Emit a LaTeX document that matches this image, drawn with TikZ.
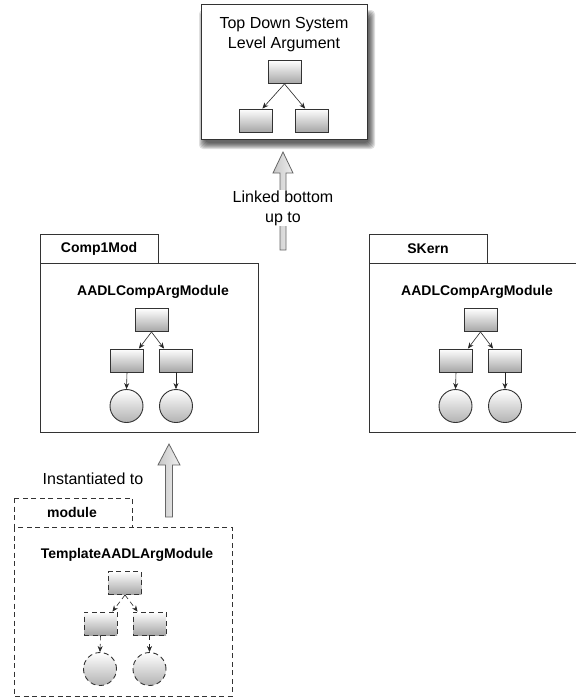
\documentclass[tikz,border=0pt]{standalone}
\usepackage{fontspec}
\setmainfont{Liberation Sans}
\usetikzlibrary{arrows.meta}

\begin{document}
\begin{tikzpicture}[x=1pt, y=-1pt, line width=0.9pt,
    goal/.style={rectangle, draw=black!80, minimum width=33pt, minimum height=23pt, inner sep=0pt,
                 top color=white, bottom color=black!35},
    sol/.style={circle, draw=black!80, minimum size=33pt, inner sep=0pt,
                top color=white, bottom color=black!30},
    link/.style={-{Stealth[length=6pt, width=5pt]}, line width=0.6pt, draw=black!85},
    tmpl/.style={dash pattern=on 5pt off 3.5pt},
    pkg/.style={draw=black!80, fill=white},
    bigarrow/.style={draw=black!60, line width=0.8pt, left color=black!22, right color=black!6},
    msgtext/.style={font=\fontsize{16}{20}\selectfont, align=center},
    pkgtitle/.style={font=\bfseries\fontsize{14}{17}\selectfont}]
    \useasboundingbox (0, 0) rectangle (576, 697);
    \clip (0, 0) rectangle (576, 697);
    % system level argument
    \foreach \r in {0, 1, ..., 6}
      \fill[black, opacity=0.12, rounded corners=4pt] (205-\r, 16-\r) rectangle (369+\r, 143+\r);
    \draw[pkg] (201, 4) rectangle (367, 139);
    \node[msgtext] (sysname) at (284, 35) {Top Down System\\Level Argument};
    \node[goal] (sys-top) at (284.5, 72) {};
    \node[goal] (sys-l) at (255.5, 120.5) {};
    \node[goal] (sys-r) at (312, 120.5) {};
    \draw[link] (sys-top.south) -- (sys-l.60);
    \draw[link] (sys-top.south) -- (sys-r.120);
    % packages
    \draw[pkg] (40, 234) rectangle (158, 263);
    \draw[pkg] (40, 263) rectangle (258, 432);
    \node[pkgtitle] (comp-tab) at (99, 249) {Comp1Mod};
    \node[pkgtitle] (comp-name) at (153, 292) {AADLCompArgModule};
    \draw[pkg] (369, 234) rectangle (487, 263);
    \draw[pkg] (369, 263) rectangle (587, 432);
    \node[pkgtitle] (skern-tab) at (428, 249) {SKern};
    \node[pkgtitle] (skern-name) at (477, 292) {AADLCompArgModule};
    \draw[pkg, tmpl] (14, 498) rectangle (132, 527);
    \draw[pkg, tmpl] (14, 527) rectangle (232, 696);
    \node[pkgtitle] (tmpl-tab) at (72, 512) {module};
    \node[pkgtitle] (tmpl-name) at (127, 555) {TemplateAADLArgModule};
    % argument trees
    \foreach \name/\cx/\cy/\sty in {comp/151.5/320/solid, skern/480.5/320/solid, tmpl/125/583/tmpl} {
      \node[goal, \sty] (\name-top) at (\cx, \cy) {};
      \node[goal, \sty] (\name-l) at (\cx-24.5, \cy+40.5) {};
      \node[goal, \sty] (\name-r) at (\cx+24.5, \cy+40.5) {};
      \node[sol, \sty] (\name-lc) at (\cx-25, \cy+86) {};
      \node[sol, \sty] (\name-rc) at (\cx+24.5, \cy+86) {};
      \draw[link, \sty] (\name-top.south) -- (\name-l.45);
      \draw[link, \sty] (\name-top.south) -- (\name-r.135);
      \draw[link, \sty] (\name-l.south) -- (\name-lc.north);
      \draw[link, \sty] (\name-r.south) -- (\name-rc.north);
    }
    % hollow arrows
    \coordinate (linktip) at (283, 152);
    \draw[bigarrow] (linktip) -- ++(10, 21) -- ++(-7, 0) -- ++(0, 77) -- ++(-6, 0) -- ++(0, -77)
                    -- ++(-7, 0) -- cycle;
    \node[msgtext, fill=white, inner sep=1pt] (linktext) at (283, 208) {Linked bottom\\up to};
    \coordinate (insttip) at (169, 444);
    \draw[bigarrow] (insttip) -- ++(11, 21) -- ++(-7.5, 0) -- ++(0, 52) -- ++(-7, 0) -- ++(0, -52)
                    -- ++(-7.5, 0) -- cycle;
    \node[msgtext] (insttext) at (93, 479) {Instantiated to};
  \end{tikzpicture}
\end{document}
